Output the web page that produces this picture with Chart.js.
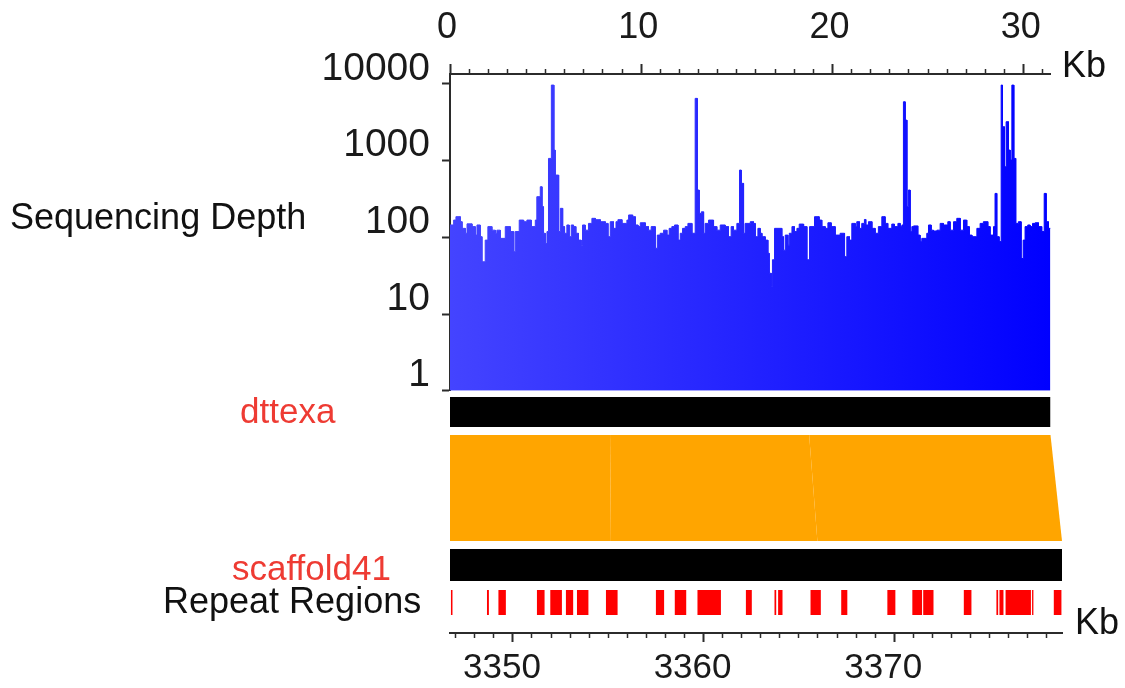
<!DOCTYPE html>
<html>
<head>
<meta charset="utf-8">
<title>dttexa / scaffold41 sequencing depth</title>
<script src="https://cdn.jsdelivr.net/npm/chart.js@4.4.1/dist/chart.umd.min.js"></script>
<style>
  html, body { margin: 0; padding: 0; background: #ffffff; }
  #wrap { position: relative; width: 1125px; height: 688px; background: #ffffff; overflow: hidden; }
  #wrap canvas { position: absolute; left: 0; top: 0; }
  .lbl { position: absolute; font-family: "Liberation Sans", Arial, Helvetica, sans-serif; line-height: 1; white-space: nowrap; color: #111111; }
  .red { color: #ee3b33; }
</style>
</head>
<body>
<div id="wrap">
  <canvas id="depthChart" width="1125" height="688"></canvas>
  <canvas id="trackChart" width="1125" height="688"></canvas>
  <div class="lbl" style="left:10px; top:199px; font-size:36px;">Sequencing Depth</div>
  <div class="lbl red" style="left:240px; top:393px; font-size:35px;">dttexa</div>
  <div class="lbl red" style="left:232px; top:550px; font-size:35px;">scaffold41</div>
  <div class="lbl" style="left:163px; top:583px; font-size:36px;">Repeat Regions</div>
  <div class="lbl" style="left:1062px; top:47px; font-size:36px;">Kb</div>
  <div class="lbl" style="left:1075px; top:604px; font-size:36px;">Kb</div>
</div>
<script>
// ---- data -------------------------------------------------------------
// dttexa length (kb) and read depth: each value holds from its start position
// up to the next start position (the last one runs to the end of dttexa).
const dttexaLengthKb = 31.4;
const depthStartKb = [
  0.00, 0.19, 0.31, 0.54, 0.63, 0.80, 0.89, 1.15, 1.32, 1.41, 1.58, 1.67, 1.84, 1.98,
  2.19, 2.37, 2.45, 2.63, 2.89, 3.15, 3.33, 3.41, 3.62, 3.85, 4.02, 4.25, 4.46, 4.54,
  4.72, 4.81, 4.89, 4.98, 5.07, 5.15, 5.30, 5.43, 5.50, 5.68, 5.77, 5.89, 5.99, 6.11,
  6.23, 6.34, 6.46, 6.58, 6.72, 6.86, 6.93, 7.07, 7.24, 7.42, 7.60, 7.86, 8.12, 8.26,
  8.38, 8.55, 8.68, 8.78, 8.99, 9.25, 9.34, 9.55, 9.69, 9.83, 9.95, 10.21, 10.38, 10.52,
  10.73, 10.84, 10.99, 11.17, 11.34, 11.46, 11.60, 11.74, 11.92, 12.04, 12.16, 12.30,
  12.44, 12.65, 12.82, 12.93, 13.03, 13.14, 13.26, 13.34, 13.52, 13.78, 13.95, 14.13,
  14.39, 14.56, 14.70, 14.82, 15.00, 15.14, 15.23, 15.35, 15.43, 15.70, 15.87, 15.96,
  16.10, 16.22, 16.31, 16.48, 16.62, 16.69, 16.80, 16.86, 16.97, 17.35, 17.44, 17.53,
  17.67, 17.74, 17.88, 18.01, 18.14, 18.26, 18.49, 18.66, 18.80, 19.06, 19.30, 19.44,
  19.62, 19.76, 19.93, 20.14, 20.40, 20.63, 20.75, 20.89, 21.01, 21.19, 21.27, 21.41,
  21.53, 21.67, 21.74, 21.88, 22.06, 22.23, 22.40, 22.58, 22.75, 22.89, 23.10, 23.24,
  23.42, 23.54, 23.63, 23.71, 23.80, 23.89, 23.97, 24.06, 24.15, 24.24, 24.46, 24.58,
  24.67, 24.93, 25.02, 25.16, 25.28, 25.46, 25.63, 25.80, 26.03, 26.15, 26.33, 26.50,
  26.68, 26.85, 27.02, 27.15, 27.29, 27.55, 27.72, 27.89, 28.12, 28.24, 28.42, 28.50,
  28.59, 28.71, 28.82, 28.89, 28.99, 29.08, 29.20, 29.29, 29.38, 29.48, 29.58, 29.72,
  29.86, 29.97, 30.07, 30.21, 30.33, 30.46, 30.60, 30.77, 30.94, 31.07, 31.17, 31.29
];
const depthValue = [
  145, 168, 186, 160, 131, 113, 150, 138, 107, 145, 102, 48, 92, 138,
  124, 113, 124, 97, 138, 119, 65, 119, 168, 160, 168, 138, 168, 339,
  457, 251, 113, 83, 119, 1070, 9680, 1375, 649, 119, 239, 138, 113, 145,
  102, 145, 138, 113, 92, 79, 145, 124, 152, 177, 170, 160, 152, 102,
  160, 131, 160, 170, 152, 168, 196, 186, 145, 138, 155, 138, 124, 138,
  72, 107, 113, 124, 107, 131, 138, 145, 92, 113, 131, 138,
  152, 113, 6490, 414, 205, 215, 113, 152, 168, 138, 124, 145,
  138, 102, 138, 124, 152, 754, 506, 113, 152, 160, 152, 102,
  131, 113, 102, 92, 62, 34, 23, 51, 131, 102, 68, 107,
  79, 113, 138, 119, 131, 149, 138, 51, 138, 186, 168, 138,
  131, 155, 138, 107, 113, 56, 102, 92, 152, 138, 160, 131,
  152, 171, 145, 160, 131, 113, 138, 186, 152, 131, 149, 138,
  152, 138, 145, 5860, 3380, 251, 414, 119, 138, 141, 107, 88,
  97, 113, 145, 124, 121, 124, 152, 145, 160, 124, 160, 177,
  124, 168, 138, 107, 102, 131, 152, 160, 138, 107, 138, 374,
  102, 88, 9680, 2770, 833, 3220, 1375, 1018, 9680, 1070, 152, 160,
  53, 92, 138, 145, 138, 152, 155, 138, 119, 374, 160, 131
];

const depthTicks = [1, 10, 100, 1000, 10000];
const dttexaMajorTicks = [0, 10, 20, 30];
const dttexaMinorTicks = [1, 2, 3, 4, 5, 6, 7, 8, 9, 11, 12, 13, 14, 15, 16, 17, 18, 19,
                          21, 22, 23, 24, 25, 26, 27, 28, 29, 31];

// scaffold41 window (kb)
const scaffoldStartKb = 3346.7;
const scaffoldEndKb = 3378.8;
const scaffoldMajorTicks = [3350, 3360, 3370];
const scaffoldMinorTicks = [3347, 3348, 3349, 3351, 3352, 3353, 3354, 3355, 3356, 3357, 3358, 3359,
                            3361, 3362, 3363, 3364, 3365, 3366, 3367, 3368, 3369,
                            3371, 3372, 3373, 3374, 3375, 3376, 3377, 3378];

// aligned blocks: dttexa interval -> scaffold41 interval (kb)
const alignDttexa = [[0, 8.37], [8.37, 18.78], [18.78, 31.4]];
const alignScaffold = [[3346.7, 3355.14], [3355.14, 3365.97], [3365.97, 3378.8]];

// repeat regions on scaffold41 (kb)
const repeatRegions = [
  [3346.75, 3346.83], [3348.64, 3348.74], [3349.24, 3349.63], [3351.26, 3351.66],
  [3351.96, 3352.57], [3352.78, 3353.16], [3353.36, 3353.96], [3354.88, 3355.49],
  [3357.50, 3357.93], [3358.49, 3359.09], [3359.68, 3360.91], [3362.22, 3362.53],
  [3363.72, 3363.81], [3363.91, 3364.14], [3365.61, 3366.15], [3367.22, 3367.54],
  [3369.64, 3370.06], [3370.95, 3371.46], [3371.52, 3372.06], [3373.65, 3374.05],
  [3375.36, 3375.45], [3375.52, 3375.73], [3375.84, 3377.17], [3377.23, 3377.30],
  [3378.37, 3378.77]
];

// ---- layout -----------------------------------------------------------
const FONT = '"Liberation Sans", Arial, Helvetica, sans-serif';
const INK = '#1a1a1a';
const AXIS = '#2b2b2b';
const W = 1125, H = 688;
const depthArea = { left: 450, right: 1050.5, top: 74, bottom: 390.7 };
const trackArea = { left: 450, right: 1062, top: 392, bottom: 633 };
const depthMax = 13500;                 // headroom above the 10000 tick
// track rows, in px below the top of the track panel
const TRACK = { span: 241, dttexa: [5, 35], ribbon: [43, 149], scaffold: [157, 189], repeat: [198, 223] };
// dttexa axis range in the track panel so its kb spacing equals the depth panel
const dttexaAxisMax = dttexaLengthKb * (trackArea.right - trackArea.left) / (depthArea.right - depthArea.left);
const toDttexaAxis = s => (s - scaffoldStartKb) * dttexaAxisMax / (scaffoldEndKb - scaffoldStartKb);

const tickList = values => scale => { scale.ticks = values.map(v => ({ value: v })); };

// ---- depth panel -------------------------------------------------------
const depthPoints = [];
depthStartKb.forEach((start, i) => {
  const end = i + 1 < depthStartKb.length ? depthStartKb[i + 1] : dttexaLengthKb;
  depthPoints.push({ x: start, y: depthValue[i] }, { x: end, y: depthValue[i] });
});

function blueRamp(context) {
  const chart = context.chart;
  const area = chart.chartArea;
  if (!area) return 'rgb(40,40,255)';
  const g = chart.ctx.createLinearGradient(area.left, 0, area.right, 0);
  g.addColorStop(0, 'rgb(68,68,255)');
  g.addColorStop(1, 'rgb(0,0,255)');
  return g;
}

new Chart(document.getElementById('depthChart'), {
  type: 'line',
  data: {
    datasets: [{
      label: 'Sequencing Depth',
      data: depthPoints,
      xAxisID: 'x',
      yAxisID: 'y',
      borderWidth: 1,
      borderColor: blueRamp,
      backgroundColor: blueRamp,
      fill: 'start',
      pointRadius: 0,
      tension: 0
    }]
  },
  options: {
    responsive: false,
    animation: false,
    devicePixelRatio: 1,
    events: [],
    layout: {
      autoPadding: false,
      padding: { left: 0, top: 0, right: W - depthArea.right, bottom: H - depthArea.bottom }
    },
    plugins: { legend: { display: false }, tooltip: { enabled: false } },
    scales: {
      x: {
        type: 'linear', position: 'top', weight: 1,
        min: 0, max: dttexaLengthKb,
        afterBuildTicks: tickList(dttexaMajorTicks),
        afterFit: s => { s.height = depthArea.top; },
        grid: { drawOnChartArea: false, tickLength: 10, tickWidth: 2, tickColor: AXIS },
        border: { display: true, color: AXIS, width: 2 },
        ticks: { color: INK, font: { family: FONT, size: 36 }, padding: 14, labelOffset: -3,
                 maxRotation: 0, autoSkip: false, callback: v => String(v) }
      },
      xMinor: {
        type: 'linear', position: 'top', weight: 0,
        min: 0, max: dttexaLengthKb,
        afterBuildTicks: tickList(dttexaMinorTicks),
        afterFit: s => { s.height = 0; },
        grid: { drawOnChartArea: false, tickLength: 5, tickWidth: 1.5, tickColor: AXIS },
        border: { display: true, color: AXIS, width: 2 },
        ticks: { display: false }
      },
      y: {
        type: 'logarithmic', position: 'left',
        min: 1, max: depthMax,
        afterBuildTicks: tickList(depthTicks),
        afterFit: s => { s.width = depthArea.left; },
        grid: { drawOnChartArea: false, tickLength: 8, tickWidth: 2, tickColor: AXIS },
        border: { display: true, color: AXIS, width: 2 },
        ticks: { color: INK, font: { family: FONT, size: 39 }, padding: 12, labelOffset: -15,
                 autoSkip: false, callback: v => String(v) }
      }
    }
  }
});

// ---- track panel -------------------------------------------------------
const base = { pointRadius: 0, borderWidth: 0, tension: 0, yAxisID: 'y' };
const trackSets = [];

// dttexa and scaffold41 bars
trackSets.push(Object.assign({}, base, {
  label: 'dttexa', xAxisID: 'xd',
  data: [{ x: 0, y: TRACK.dttexa[0] }, { x: dttexaLengthKb, y: TRACK.dttexa[0] }],
  fill: { value: TRACK.dttexa[1] }, backgroundColor: '#000000'
}));
trackSets.push(Object.assign({}, base, {
  label: 'scaffold41', xAxisID: 'x',
  data: [{ x: scaffoldStartKb, y: TRACK.scaffold[0] }, { x: scaffoldEndKb, y: TRACK.scaffold[0] }],
  fill: { value: TRACK.scaffold[1] }, backgroundColor: '#000000'
}));

// aligned blocks linking the two sequences
alignDttexa.forEach((d, i) => {
  const s = alignScaffold[i];
  trackSets.push(Object.assign({}, base, {
    label: 'alignment ' + (i + 1), xAxisID: 'xd',
    data: [
      { x: d[0], y: TRACK.ribbon[0] }, { x: d[1], y: TRACK.ribbon[0] },
      { x: toDttexaAxis(s[1]), y: TRACK.ribbon[1] }, { x: toDttexaAxis(s[0]), y: TRACK.ribbon[1] }
    ],
    fill: 'shape', backgroundColor: '#ffa500'
  }));
});

// repeat regions
const repeatPoints = [{ x: scaffoldStartKb, y: TRACK.repeat[1] }];
repeatRegions.forEach(([a, b]) => {
  repeatPoints.push({ x: a, y: TRACK.repeat[1] }, { x: a, y: TRACK.repeat[0] },
                    { x: b, y: TRACK.repeat[0] }, { x: b, y: TRACK.repeat[1] });
});
repeatPoints.push({ x: scaffoldEndKb, y: TRACK.repeat[1] });
trackSets.push(Object.assign({}, base, {
  label: 'Repeat Regions', xAxisID: 'x',
  data: repeatPoints, fill: { value: TRACK.repeat[1] }, backgroundColor: '#ff0000'
}));

new Chart(document.getElementById('trackChart'), {
  type: 'line',
  data: { datasets: trackSets },
  options: {
    responsive: false,
    animation: false,
    devicePixelRatio: 1,
    events: [],
    layout: {
      autoPadding: false,
      padding: { left: trackArea.left, top: trackArea.top, right: W - trackArea.right, bottom: 0 }
    },
    plugins: { legend: { display: false }, tooltip: { enabled: false } },
    scales: {
      x: {
        type: 'linear', position: 'bottom', weight: 1,
        min: scaffoldStartKb, max: scaffoldEndKb,
        afterBuildTicks: tickList(scaffoldMajorTicks),
        afterFit: s => { s.height = H - trackArea.bottom; },
        grid: { drawOnChartArea: false, tickLength: 9, tickWidth: 2, tickColor: AXIS },
        border: { display: true, color: AXIS, width: 2 },
        ticks: { color: INK, font: { family: FONT, size: 35 }, padding: 5, labelOffset: -11,
                 maxRotation: 0, autoSkip: false, callback: v => String(v) }
      },
      xMinor: {
        type: 'linear', position: 'bottom', weight: 0,
        min: scaffoldStartKb, max: scaffoldEndKb,
        afterBuildTicks: tickList(scaffoldMinorTicks),
        afterFit: s => { s.height = 0; },
        grid: { drawOnChartArea: false, tickLength: 5, tickWidth: 1.5, tickColor: AXIS },
        border: { display: true, color: AXIS, width: 2 },
        ticks: { display: false }
      },
      xd: { type: 'linear', display: false, min: 0, max: dttexaAxisMax },
      y: { type: 'linear', display: false, min: 0, max: TRACK.span, reverse: true }
    }
  }
});
</script>
</body>
</html>
